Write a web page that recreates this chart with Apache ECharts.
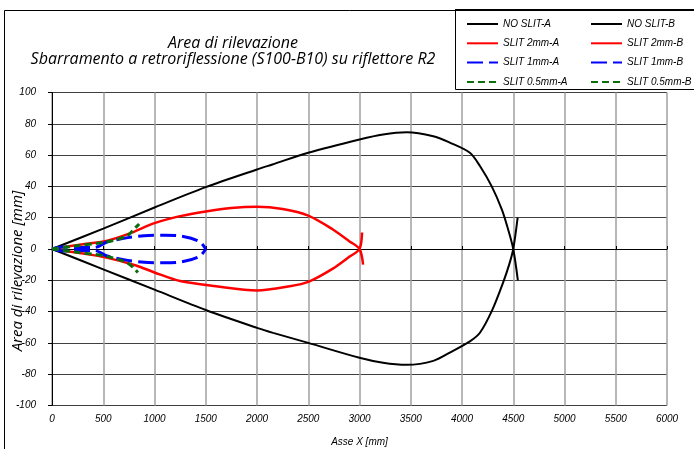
<!DOCTYPE html>
<html>
<head>
<meta charset="utf-8">
<script src="https://cdn.jsdelivr.net/npm/echarts@6/dist/echarts.min.js"></script>
<style>html,body{margin:0;padding:0;background:#fff}#c{width:694px;height:449px}</style>
</head>
<body>
<div id="c"></div>
<script>
// ---- data (x in mm, y in mm) ----
const titleLines = ['Area di rilevazione', 'Sbarramento a retroriflessione (S100-B10) su riflettore R2'];
const xName = 'Asse X [mm]';
const yName = 'Area di rilevazione [mm]';
const seriesNames = ['NO SLIT-A','NO SLIT-B','SLIT 2mm-A','SLIT 2mm-B','SLIT 1mm-A','SLIT 1mm-B','SLIT 0.5mm-A','SLIT 0.5mm-B'];

const noSlitA = [[0,0],[500,13],[1000,26.5],[1500,39.5],[2000,50.8],[2150,54],[2500,61.5],[3000,70],[3230,73.2],[3460,74.6],[3720,72.1],[3880,68],[4077,61.5],[4175,53],[4290,40],[4390,25],[4450,12.5],[4500,0],[4545,-20]];
const noSlitB = [[0,0],[500,-13],[1000,-26],[1500,-39],[2000,-50.4],[2157,-53.6],[2500,-60],[3000,-69.5],[3230,-72.7],[3460,-74],[3720,-71.5],[3900,-65.5],[4077,-59],[4175,-53.5],[4290,-39.7],[4400,-21.6],[4460,-10],[4500,0],[4543,20]];
const slit2A = [[0,0],[270,2.8],[530,5.2],[760,10],[1000,16.5],[1250,21],[1500,24],[1750,26.2],[2000,27],[2250,25.5],[2500,21.3],[2740,12.5],[2900,5],[3000,0],[3035,-10]];
const slit2B = [[0,0],[270,-2.6],[530,-5.5],[820,-10.5],[1000,-15],[1250,-20.5],[1600,-23.8],[2000,-26.5],[2320,-23.8],[2500,-21],[2740,-12.5],[2900,-5],[3000,0],[3025,10.5]];
const slit1A = [[0,0],[100,1.2],[250,1],[420,1],[530,4.3],[700,6.8],[900,8.5],[1100,8.8],[1280,8],[1440,4.7],[1500,0]];
const slit1B = [[0,0],[100,-1.2],[250,-1],[420,-1],[530,-4.3],[700,-6.8],[900,-8.5],[1100,-8.8],[1280,-8],[1440,-4.7],[1500,0]];
const slit05A = [[0,0],[260,2.2],[530,4.5],[725,8.2],[820,14],[850,16]];
const slit05B = [[0,0],[260,-2.2],[530,-4.7],[740,-9],[838,-15]];

const seriesData = [noSlitA, noSlitB, slit2A, slit2B, slit1A, slit1B, slit05A, slit05B];
const styles = [
  {color:'#000000', width:2, type:'solid'},
  {color:'#000000', width:2, type:'solid'},
  {color:'#ff0000', width:2.5, type:'solid'},
  {color:'#ff0000', width:2.5, type:'solid'},
  {color:'#0000ff', width:3, type:[16,6]},
  {color:'#0000ff', width:3, type:[16,6]},
  {color:'#0a6e0a', width:3, type:[7,4]},
  {color:'#0a6e0a', width:3, type:[7,4]}
];

const FONT = 'Open Sans';
const chart = echarts.init(document.getElementById('c'), null, {renderer:'canvas'});
const legendText = {fontFamily:'Liberation Sans', fontStyle:'italic', fontSize:10, color:'#000'};
const plain = v => String(v);
chart.setOption({
  backgroundColor:'#ffffff',
  animation:false,
  title:{
    text: titleLines.join('\n'),
    left: 228, top: 30, textAlign:'center',
    textStyle:{fontFamily:FONT, fontStyle:'italic', fontWeight:'normal', fontSize:16, lineHeight:16, color:'#000'}
  },
  graphic:[
    {type:'rect', z:0, shape:{x:4.5, y:10.5, width:800, height:600}, style:{fill:'none', stroke:'#000', lineWidth:1}},
    {type:'rect', z:3, shape:{x:455.5, y:9.5, width:260, height:80}, style:{fill:'#fff', stroke:'#000', lineWidth:1}},
    {type:'line', z:3, shape:{x1:455, y1:10, x2:700, y2:10}, style:{stroke:'#000', lineWidth:2}}
  ],
  legend:[
    {orient:'vertical', left:461, top:14, padding:5, itemWidth:31, itemHeight:12, itemGap:9.3, z:5,
     itemStyle:{opacity:0},
     data:[seriesNames[0],seriesNames[2],seriesNames[4],seriesNames[6]], textStyle:legendText},
    {orient:'vertical', left:585, top:14, padding:5, itemWidth:31, itemHeight:12, itemGap:9.3, z:5,
     itemStyle:{opacity:0},
     data:[seriesNames[1],seriesNames[3],seriesNames[5],seriesNames[7]], textStyle:legendText}
  ],
  grid:{left:52, right:27, top:92.5, bottom:43.5, containLabel:false, outerBoundsMode:'none'},
  xAxis:[
    {type:'value', min:0, max:6000, interval:500, position:'bottom',
     axisLine:{show:false, onZero:false}, axisTick:{show:false},
     axisLabel:{margin:9, formatter:plain, fontFamily:'Liberation Sans', fontStyle:'italic', fontSize:10, color:'#000'},
     splitLine:{show:true, lineStyle:{color:'#a0a0a0', width:1.5}},
     name:xName, nameLocation:'middle', nameGap:32, nameMoveOverlap:false,
     nameTextStyle:{fontFamily:'Liberation Sans', fontStyle:'italic', fontSize:10, color:'#000'}},
    {type:'value', min:0, max:6000, interval:500, position:'top',
     axisLine:{show:true, onZero:true, lineStyle:{color:'#000', width:1}},
     axisTick:{show:true, length:3, lineStyle:{color:'#000'}},
     axisLabel:{show:false}, splitLine:{show:false}}
  ],
  yAxis:{type:'value', min:-100, max:100, interval:20,
    axisLine:{show:true, onZero:false, lineStyle:{color:'#000', width:1}},
    axisTick:{show:true, length:4, lineStyle:{color:'#000'}},
    axisLabel:{margin:16, formatter:plain, fontFamily:'Liberation Sans', fontStyle:'italic', fontSize:10, color:'#000'},
    splitLine:{show:true, lineStyle:{color:'#404040', width:1}},
    name:yName, nameLocation:'middle', nameGap:27, nameMoveOverlap:false,
    nameTextStyle:{fontFamily:FONT, fontStyle:'italic', fontSize:15, color:'#000', padding:[0,44,0,0]}
  },
  series: seriesNames.map((n,i)=>({
    name:n, type:'line', xAxisIndex:0, data:seriesData[i], showSymbol:false, symbol:'none',
    smooth:0.3, lineStyle:styles[i], itemStyle:{color:styles[i].color}, z:2+i*0.01
  }))
});
</script>
</body>
</html>
